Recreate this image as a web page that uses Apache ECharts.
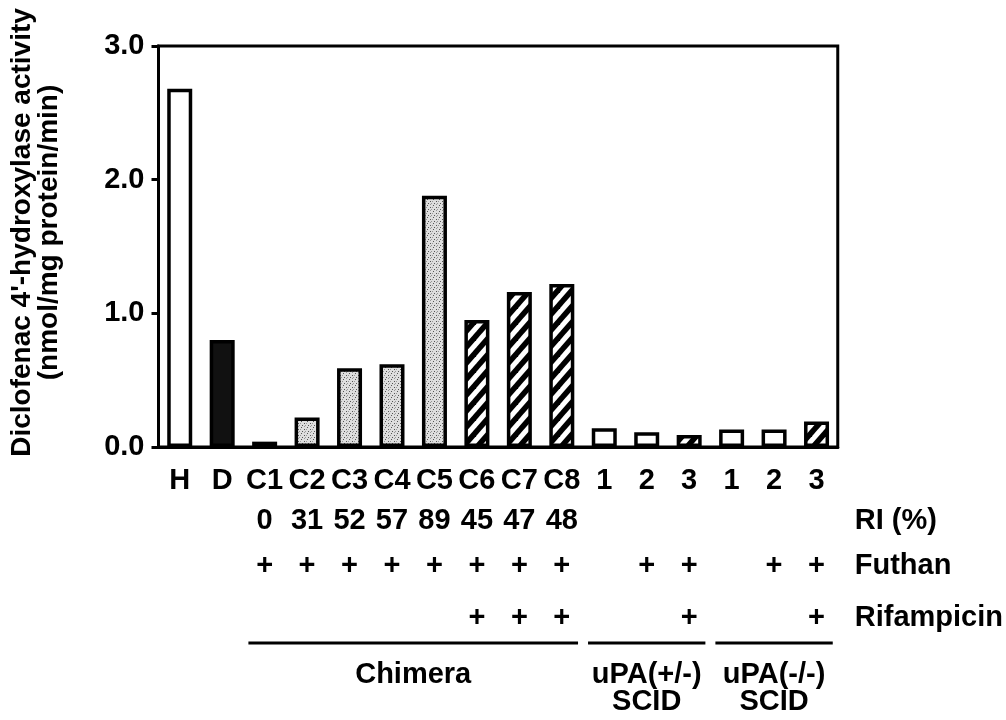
<!DOCTYPE html>
<html>
<head>
<meta charset="utf-8">
<script src="https://cdn.jsdelivr.net/npm/echarts@6/dist/echarts.min.js"></script>
<style>
html,body{margin:0;padding:0;background:#fff;}
#chart{width:1006px;height:720px;}
</style>
</head>
<body>
<div id="chart"></div>
<script>
// ---- data ----
const categories = ['H','D','C1','C2','C3','C4','C5','C6','C7','C8','uPA+/- 1','uPA+/- 2','uPA+/- 3','uPA-/- 1','uPA-/- 2','uPA-/- 3'];
const categoryLabels = ['H','D','C1','C2','C3','C4','C5','C6','C7','C8','1','2','3','1','2','3'];
const activity = [2.68, 0.80, 0.04, 0.22, 0.59, 0.62, 1.88, 0.95, 1.16, 1.22, 0.14, 0.11, 0.09, 0.13, 0.13, 0.19];
const riLabels = ['','','0','31','52','57','89','45','47','48','','','','','',''];
const futhanLabels = ['','','+','+','+','+','+','+','+','+','','+','+','','+','+'];
const rifampicinLabels = ['','','','','','','','+','+','+','','','+','','','+'];
const groupNames = ['Chimera','uPA(+/-)\nSCID','uPA(-/-)\nSCID'];
const groupSpans = [[2,9],[10,12],[13,15]];
const yTicks = [0, 1, 2, 3];

const FONT = '"Liberation Sans", Arial, Helvetica, sans-serif';
const FS = 29;

function hatchPattern(){
  const w = 14, h = 16;
  const c = document.createElement('canvas'); c.width = w; c.height = h;
  const g = c.getContext('2d');
  g.fillStyle = '#fff'; g.fillRect(0,0,w,h);
  g.strokeStyle = '#000'; g.lineWidth = 5.5;
  for (let k = -1; k <= 1; k++) {
    g.beginPath(); g.moveTo(k*w - w, 2*h); g.lineTo(k*w + 2*w, -h); g.stroke();
  }
  return c;
}
function stipplePattern(){
  const c = document.createElement('canvas'); c.width = 6; c.height = 6;
  const g = c.getContext('2d');
  g.fillStyle = '#dedede'; g.fillRect(0,0,6,6);
  g.fillStyle = '#555';
  [[1,1],[4,3],[2,5]].forEach(p => g.fillRect(p[0],p[1],1,1));
  g.fillStyle = '#999';
  [[4,0],[0,3],[5,5]].forEach(p => g.fillRect(p[0],p[1],1,1));
  return c;
}
const hatch = {image: hatchPattern(), repeat: 'repeat'};
const stipple = {image: stipplePattern(), repeat: 'repeat'};

function fillFor(i){
  const c = categories[i];
  if (c === 'H') return '#fff';
  if (c === 'D') return '#111';
  if (rifampicinLabels[i] === '+') return hatch;
  if (c.charAt(0) === 'C') return stipple;
  return '#fff';
}

const chart = echarts.init(document.getElementById('chart'), null, {renderer: 'canvas'});

const labelStyle = {color: '#000', fontSize: FS, fontWeight: 'bold', fontFamily: FONT};

function rowAxis(labels, offset, name){
  return {
    type: 'category', gridIndex: 0, position: 'bottom', offset: offset,
    data: categories,
    axisLine: {show: false}, axisTick: {show: false},
    axisLabel: Object.assign({interval: 0, margin: 20, formatter: (v, i) => labels[i]}, labelStyle),
    name: name, nameLocation: 'end', nameGap: 17,
    nameTextStyle: Object.assign({verticalAlign: 'top', align: 'left', padding: [20,0,0,0]}, labelStyle)
  };
}

const option = {
  animation: false,
  backgroundColor: '#fff',
  grid: {left: 157, top: 46, right: 168, bottom: 273, show: true, borderColor: '#000', borderWidth: 3, backgroundColor: 'transparent'},
  xAxis: [
    {
      type: 'category', gridIndex: 0, position: 'bottom', data: categories,
      axisLine: {show: true, lineStyle: {color: '#000', width: 3}},
      axisTick: {show: false},
      axisLabel: Object.assign({interval: 0, margin: 19, formatter: (v, i) => categoryLabels[i]}, labelStyle)
    },
    rowAxis(riLabels, 39, 'RI (%)'),
    rowAxis(futhanLabels, 84, 'Futhan'),
    rowAxis(rifampicinLabels, 136, 'Rifampicin')
  ],
  yAxis: {
    type: 'value', min: yTicks[0], max: yTicks[yTicks.length-1], interval: 1,
    axisLine: {show: true, lineStyle: {color: '#000', width: 3}},
    axisTick: {show: true, inside: false, length: 7, lineStyle: {color: '#000', width: 3}},
    splitLine: {show: false},
    axisLabel: Object.assign({margin: 14, formatter: v => v.toFixed(1)}, labelStyle),
    name: "Diclofenac 4'-hydroxylase activity\n(nmol/mg protein/min)",
    nameLocation: 'middle', nameRotate: 90, nameGap: 96,
    nameTextStyle: Object.assign({lineHeight: 27, padding: [0,0,0,28]}, labelStyle, {fontSize: 28})
  },
  series: [{
    type: 'bar', xAxisIndex: 0, yAxisIndex: 0, barWidth: 25,
    data: activity.map((v, i) => ({value: v, itemStyle: {color: fillFor(i), borderColor: '#000', borderWidth: 3.5}}))
  }]
};
chart.setOption(option);

// group underlines and labels positioned via the axis scale
const c0 = chart.convertToPixel({xAxisIndex: 0}, categories[0]);
const c1 = chart.convertToPixel({xAxisIndex: 0}, categories[1]);
const band = c1 - c0;
const y0 = chart.convertToPixel({yAxisIndex: 0}, 0);
const lineY = y0 + 196;
const graphics = [];
groupSpans.forEach((span, gi) => {
  const xa = chart.convertToPixel({xAxisIndex: 0}, categories[span[0]]) - band/2 + 5;
  const xb = chart.convertToPixel({xAxisIndex: 0}, categories[span[1]]) + band/2 - 5;
  graphics.push({type: 'line', silent: true, shape: {x1: xa, y1: lineY, x2: xb, y2: lineY}, style: {stroke: '#000', lineWidth: 3}});
  graphics.push({type: 'text', silent: true, x: (xa + xb)/2, y: lineY + 18,
    style: {text: groupNames[gi], fill: '#000', font: 'bold ' + FS + 'px ' + FONT, align: 'center', verticalAlign: 'top', textAlign: 'center', textVerticalAlign: 'top', lineHeight: 27}});
});
chart.setOption({graphic: graphics});
</script>
</body>
</html>
